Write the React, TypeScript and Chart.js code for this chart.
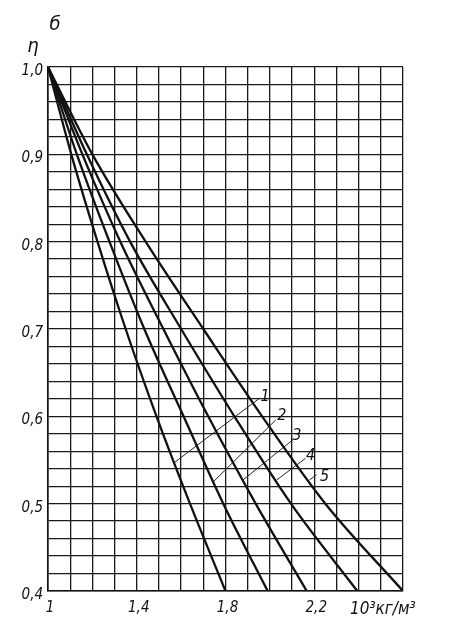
import React, { useEffect, useRef } from "react";
import { Chart, registerables } from "chart.js";
Chart.register(...registerables);

// η levels at which curve densities were read
const etaLevels = [1.0, 0.9, 0.8, 0.7, 0.6, 0.5, 0.4];
// density (10³ кг/м³) of each curve at those η levels
const curve1 = [1.0, 1.105, 1.223, 1.35, 1.489, 1.64, 1.8];
const curve2 = [1.0, 1.13, 1.277, 1.434, 1.611, 1.79, 1.99];
const curve3 = [1.0, 1.155, 1.326, 1.52, 1.722, 1.936, 2.166];
const curve4 = [1.0, 1.175, 1.37, 1.6, 1.84, 2.095, 2.394];
const curve5 = [1.0, 1.2, 1.44, 1.7, 1.965, 2.25, 2.6];

// leader lines of the curve numbers
const curveLabels = ["1", "2", "3", "4", "5"];
const leaderFromX = [1.569, 1.745, 1.878, 2.03, 2.178];
const leaderFromY = [0.547, 0.525, 0.527, 0.527, 0.527];
const leaderToX = [1.955, 2.027, 2.103, 2.161, 2.21];
const leaderToY = [0.621, 0.596, 0.573, 0.552, 0.533];
const labelX = [1.978, 2.054, 2.121, 2.183, 2.246];
const labelY = [0.622, 0.6, 0.578, 0.555, 0.531];

// axis tick labels
const xTickValues = [1, 1.4, 1.8, 2.2, 2.5];
const xTickLabels = ["1", "1,4", "1,8", "2,2", "10³кг/м³"];
const yTickValues = [0.4, 0.5, 0.6, 0.7, 0.8, 0.9, 1.0];
const yTickLabels = ["0,4", "0,5", "0,6", "0,7", "0,8", "0,9", "1,0"];
const yAxisTitle = "η";
const figureMark = "б";

const FONT = "'Liberation Sans Narrow', 'DejaVu Sans Condensed', 'Liberation Sans', sans-serif";

export default function App() {
  const ref = useRef<HTMLCanvasElement | null>(null);
  useEffect(() => {
    document.body.style.margin = "0";
    const canvas = ref.current;
    if (!canvas) return;
    const curves = [curve1, curve2, curve3, curve4, curve5];
    const datasets: any[] = curves.map((c, i) => ({
      label: "Кривая " + curveLabels[i],
      data: c.map((x, j) => ({ x, y: etaLevels[j] })),
      borderColor: "#111",
      borderWidth: 2.3,
      pointRadius: 0,
      cubicInterpolationMode: "monotone",
      fill: false,
    }));
    curveLabels.forEach((_, i) => {
      datasets.push({
        label: "leader " + curveLabels[i],
        data: [
          { x: leaderFromX[i], y: leaderFromY[i] },
          { x: leaderToX[i], y: leaderToY[i] },
        ],
        borderColor: "#222",
        borderWidth: 1,
        pointRadius: 0,
        fill: false,
      });
    });

    const textPlugin = {
      id: "texts",
      afterDatasetsDraw(chart: any) {
        const ctx = chart.ctx;
        const xs = chart.scales.x;
        const ys = chart.scales.y;
        ctx.save();
        ctx.fillStyle = "#111";
        ctx.textAlign = "center";
        ctx.textBaseline = "middle";
        ctx.font = "italic 16px " + FONT;
        curveLabels.forEach((t, i) => {
          ctx.fillText(t, xs.getPixelForValue(labelX[i]), ys.getPixelForValue(labelY[i]));
        });
        ctx.font = "italic 20px " + FONT;
        ctx.fillText(yAxisTitle, chart.chartArea.left - 15, chart.chartArea.top - 20);
        ctx.fillText(figureMark, chart.chartArea.left + 7, chart.chartArea.top - 42);
        ctx.restore();
      },
    };

    const near = (a: number, b: number) => Math.abs(a - b) < 1e-6;

    const chart = new Chart(canvas, {
      type: "line",
      data: { datasets },
      plugins: [textPlugin],
      options: {
        animation: false,
        responsive: false,
        maintainAspectRatio: false,
        layout: { padding: { left: 0, top: 67, right: 47, bottom: 0 } },
        plugins: { legend: { display: false }, tooltip: { enabled: false } },
        scales: {
          x: {
            type: "linear",
            min: 1,
            max: 2.6,
            afterFit: (s: any) => {
              s.height = 44;
            },
            grid: { color: "#1a1a1a", lineWidth: 1.3, drawTicks: false },
            border: { color: "#111", width: 1.6 },
            ticks: {
              stepSize: 0.1,
              autoSkip: false,
              maxRotation: 0,
              padding: 8,
              labelOffset: 2,
              color: "#111",
              font: (c: any) => ({
                family: FONT,
                size: c.tick && near(c.tick.value, 2.5) ? 17 : 15,
                style: "italic",
              }),
              callback: (v: any) => {
                const idx = xTickValues.findIndex((t) => near(t, Number(v)));
                return idx >= 0 ? xTickLabels[idx] : "";
              },
            },
          },
          y: {
            type: "linear",
            min: 0.4,
            max: 1.0,
            afterFit: (s: any) => {
              s.width = 48;
            },
            grid: { color: "#1a1a1a", lineWidth: 1.3, drawTicks: false },
            border: { color: "#111", width: 1.6 },
            ticks: {
              stepSize: 0.02,
              autoSkip: false,
              padding: 5,
              labelOffset: 4,
              color: "#111",
              font: { family: FONT, size: 15, style: "italic" },
              callback: (v: any) => {
                const idx = yTickValues.findIndex((t) => near(t, Number(v)));
                return idx >= 0 ? yTickLabels[idx] : "";
              },
            },
          },
        },
      } as any,
    });
    return () => chart.destroy();
  }, []);
  return (
    <div style={{ position: "relative", width: 450, height: 635, background: "#fff" }}>
      <canvas ref={ref} width={450} height={635} style={{ display: "block", width: 450, height: 635 }} />
    </div>
  );
}
